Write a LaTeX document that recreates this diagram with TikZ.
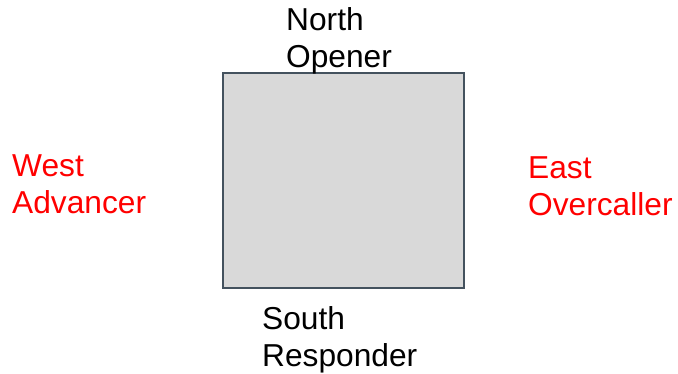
\documentclass[tikz,border=0pt]{standalone}
\usepackage{fontspec}
\setmainfont{Liberation Sans}
\definecolor{boxfill}{HTML}{D9D9D9}
\definecolor{boxline}{HTML}{44525E}
\definecolor{seatred}{HTML}{FF0000}
\begin{document}
\begin{tikzpicture}[x=1pt,y=1pt,
  seat/.style={anchor=base west,inner sep=0pt,align=left,font=\fontsize{31.7}{37}\selectfont},
  oppseat/.style={seat,text=seatred}]
\useasboundingbox (0,0) rectangle (678,374);
\node[draw=boxline,line width=2pt,fill=boxfill,minimum width=241pt,minimum height=215pt,inner sep=0pt] (table) at (343.5,193.5) {};
\node[seat] (north) at (286,306) {North\\Opener};
\node[seat] (south) at (262,7) {South\\Responder};
\node[oppseat] (west) at (12,160) {West\\Advancer};
\node[oppseat] (east) at (528,158) {East\\Overcaller};
\end{tikzpicture}
\end{document}
